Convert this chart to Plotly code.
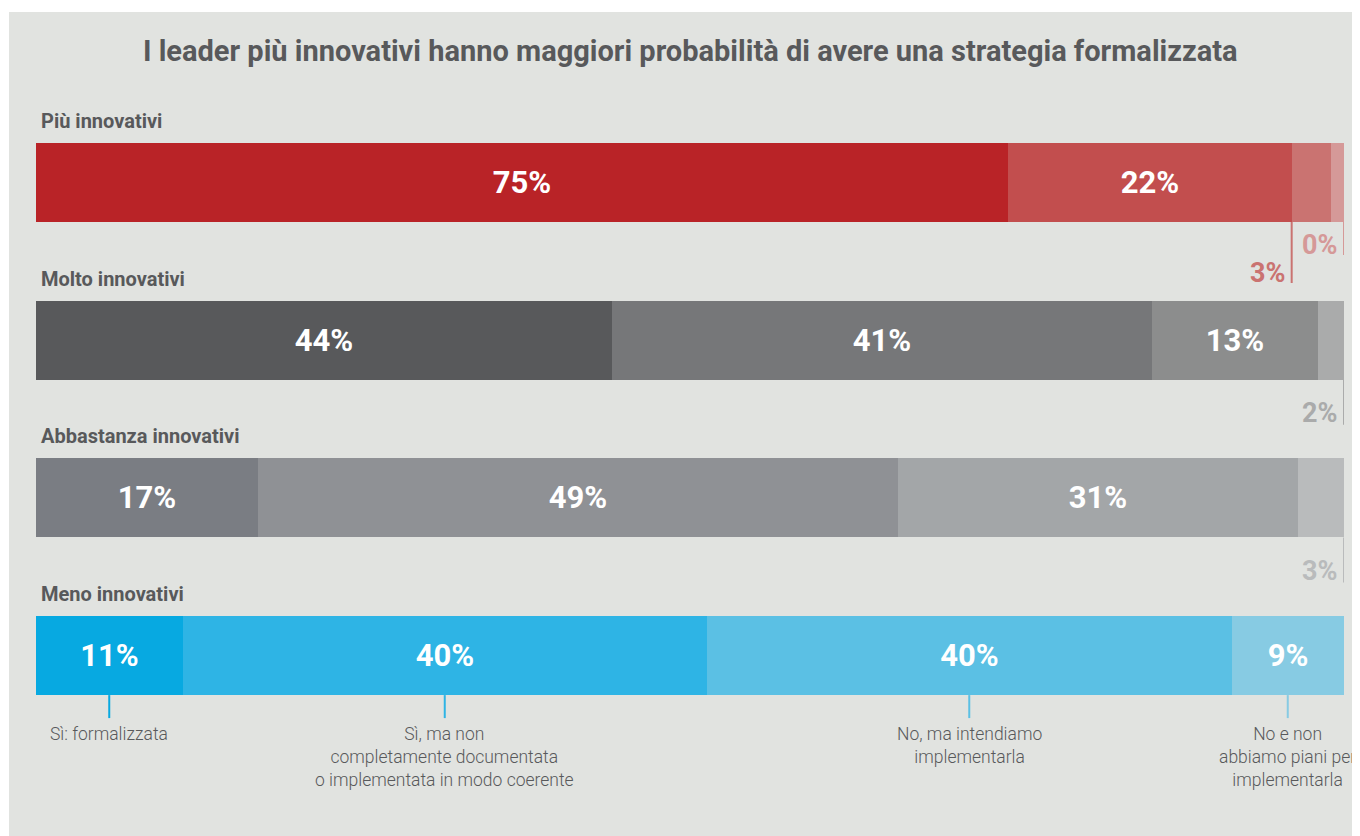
import plotly.graph_objects as go

# ---------------- data ----------------
rows = ["Più innovativi", "Molto innovativi", "Abbastanza innovativi", "Meno innovativi"]
answers = [
    "Sì: formalizzata",
    "Sì, ma non<br>completamente documentata<br>o implementata in modo coerente",
    "No, ma intendiamo<br>implementarla",
    "No e non<br>abbiamo piani per<br>implementarla",
]
# bar widths as measured (percent of row)
seg1 = [74.3, 44.0, 17.0, 11.2]
seg2 = [21.7, 41.3, 48.9, 40.1]
seg3 = [3.0, 12.7, 30.6, 40.1]
seg4 = [1.0, 2.0, 3.5, 8.6]
# printed labels
lab1 = ["75%", "44%", "17%", "11%"]
lab2 = ["22%", "41%", "49%", "40%"]
lab3 = ["3%", "13%", "31%", "40%"]
lab4 = ["0%", "2%", "3%", "9%"]

title = "I leader più innovativi hanno maggiori probabilità di avere una strategia formalizzata"

# ---------------- style ----------------
colors = [
    ["#b92327", "#c24e4e", "#ca7371", "#d59998"],
    ["#58595b", "#767779", "#8c8d8d", "#aaabab"],
    ["#7a7d83", "#8f9195", "#a3a6a8", "#b9bbbc"],
    ["#07a9e1", "#2eb4e5", "#5bc0e4", "#87cbe3"],
]
OFF = 8  # page body margin
W, H = 1360 - OFF, 836 - OFF
ML, MR = 36 - OFF, 16
PW = W - ML - MR
BG = "#e1e3e0"
TXT = "#58595b"
FONT = "Roboto"
ROW0, STEP, BARH = 182.5 - OFF, 157.7, 79  # pixel layout of rows

def px_x(p):
    return (p - ML) / PW

def px_y(p):
    return 1 - p / H

segs = [seg1, seg2, seg3, seg4]
labs = [lab1, lab2, lab3, lab4]

fig = go.Figure()
for k in range(4):
    vals = segs[k]
    fig.add_trace(go.Bar(
        y=rows, x=vals, orientation="h",
        marker=dict(color=[colors[r][k] for r in range(4)], line=dict(width=0)),
        text=[labs[k][r] if vals[r] >= 5 else "" for r in range(4)],
        textposition="inside", insidetextanchor="middle",
        textfont=dict(family=FONT, size=31, color="white", weight="bold"),
        width=BARH / STEP, showlegend=False, hoverinfo="skip",
    ))

top_idx = -ROW0 / STEP
bot_idx = (H - ROW0) / STEP

shapes = []
annotations = []

# outer white border
shapes.append(dict(type="rect", xref="paper", yref="paper", x0=px_x(0), x1=px_x(9 - OFF), y0=0, y1=1,
                   fillcolor="white", line=dict(width=0), layer="below"))
shapes.append(dict(type="rect", xref="paper", yref="paper", x0=px_x(0), x1=px_x(W), y0=px_y(12 - OFF), y1=1,
                   fillcolor="white", line=dict(width=0), layer="below"))

annotations.append(dict(text="<b>" + title + "</b>", x=px_x(690 - OFF), y=px_y(51 - OFF), xref="paper", yref="paper",
                        showarrow=False, xanchor="center", yanchor="middle",
                        font=dict(family=FONT, size=29, color=TXT)))

for r, name in enumerate(rows):
    cy = ROW0 + r * STEP
    annotations.append(dict(text="<b>" + name + "</b>", x=px_x(39 - OFF), y=px_y(cy - 61.5), xref="paper", yref="paper",
                            showarrow=False, xanchor="left", yanchor="middle",
                            font=dict(family=FONT, size=20, color=TXT)))

# callouts for small segments: (row, segment, line at start/end, line length, label offset)
callouts = [(0, 2, "start", 61, 51), (0, 3, "end", 33, 23), (1, 3, "end", 45, 33), (2, 3, "end", 45, 34)]
for r, k, where, ln, off in callouts:
    start = sum(segs[j][r] for j in range(k))
    xv = start if where == "start" else start + segs[k][r]
    bottom = ROW0 + r * STEP + BARH / 2
    col = colors[r][k]
    shapes.append(dict(type="line", xref="x", yref="paper", x0=xv, x1=xv,
                       y0=px_y(bottom), y1=px_y(bottom + ln), line=dict(color=col, width=2)))
    annotations.append(dict(text="<b>" + labs[k][r] + "</b>", x=xv, y=px_y(bottom + off), xref="x", yref="paper",
                            showarrow=False, xanchor="right", yanchor="middle", xshift=-5,
                            font=dict(family=FONT, size=27, color=col)))

# answer legend below last row
r = 3
bottom = ROW0 + r * STEP + BARH / 2
cum = 0
for k in range(4):
    c = cum + segs[k][r] / 2
    cum += segs[k][r]
    shapes.append(dict(type="line", xref="x", yref="paper", x0=c, x1=c,
                       y0=px_y(bottom), y1=px_y(bottom + 23), line=dict(color=colors[r][k], width=2)))
    annotations.append(dict(text=answers[k], x=c, y=px_y(bottom + 27), xref="x", yref="paper",
                            showarrow=False, xanchor="center", yanchor="top", align="center",
                            font=dict(family=FONT, size=17.5, color=TXT, weight=300)))

fig.update_layout(
    width=W, height=H, barmode="stack", bargap=0,
    margin=dict(l=ML, r=MR, t=0, b=0),
    paper_bgcolor=BG, plot_bgcolor=BG,
    xaxis=dict(range=[0, 100], visible=False, fixedrange=True),
    yaxis=dict(range=[bot_idx, top_idx], visible=False, fixedrange=True, type="category",
               categoryorder="array", categoryarray=rows),
    shapes=shapes, annotations=annotations,
    uniformtext=dict(mode=False),
)

fig.write_html("out.html")
